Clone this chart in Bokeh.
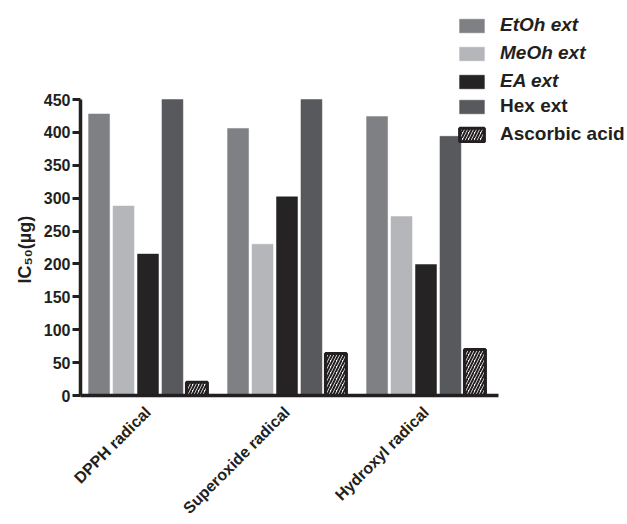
from math import pi
from bokeh.plotting import figure
from bokeh.models import Range1d, FixedTicker, Legend, LegendItem, ColumnDataSource, Label
from bokeh.embed import file_html
from bokeh.resources import INLINE

# ---- data ----
categories = ["DPPH radical", "Superoxide radical", "Hydroxyl radical"]
series_names = ["EtOh ext", "MeOh ext", "EA ext", "Hex ext", "Ascorbic acid"]
etoh = [428, 406, 424]
meoh = [288, 230, 272]
ea = [215, 302, 199]
hexane = [450, 450, 394]   # first two run off the top of the scale
ascorbic = [20, 64, 70]
y_ticks = [0, 50, 100, 150, 200, 250, 300, 350, 400, 450]
y_label = "IC₅₀(µg)"

series_values = [etoh, meoh, ea, hexane, ascorbic]
colors = ["#7f8084", "#b5b6b9", "#252324", "#58595c", "#ffffff"]
group_pos = list(range(len(categories)))

FONT = "Liberation Sans"
INK = "#231f20"

# ---- layout (canvas pixels) ----
W, H = 627, 524
gx0, gpx = 147.5, 139.0             # canvas x of first group centre, px per group
y0px, ppu = 395, 296 / 450.0        # canvas y of value 0, px per unit
ax_left_px, ax_right_px = 80, 498

def u_of(px):
    return (px - gx0) / gpx

x0, x1 = u_of(ax_left_px), u_of(ax_right_px)

p = figure(width=W, height=H, output_backend="svg", toolbar_location=None,
           x_range=Range1d(u_of(0), u_of(W)),
           y_range=Range1d((y0px - H) / ppu, y0px / ppu),
           min_border=0, tools="")
p.outline_line_color = None
p.grid.visible = False

pitch = 0.176
bw = 0.151
renderers = []
for i, (name, vals, col) in enumerate(zip(series_names, series_values, colors)):
    src = ColumnDataSource(dict(x=[g + (i - 2) * pitch for g in group_pos], top=vals))
    if name == "Ascorbic acid":
        r = p.vbar(x="x", top="top", width=bw, bottom=0, source=src,
                   fill_color="white", line_color=INK, line_width=3,
                   hatch_pattern="right_diagonal_line", hatch_color=INK,
                   hatch_scale=6, hatch_weight=2)
    else:
        r = p.vbar(x="x", top="top", width=bw, bottom=0, source=src,
                   fill_color=col, line_color=col, line_width=0.5)
    renderers.append(r)

# axes drawn at fixed positions inside the canvas
p.xaxis.fixed_location = 0
p.xaxis.bounds = (x0, x1)
p.xaxis.ticker = FixedTicker(ticks=group_pos)
p.xaxis.major_label_overrides = {g: c for g, c in zip(group_pos, categories)}
p.xaxis.major_label_orientation = pi / 4
p.xaxis.major_tick_line_color = None
p.xaxis.major_tick_out = 0
p.xaxis.major_tick_in = 0
p.xaxis.minor_tick_line_color = None
p.xaxis.major_label_standoff = 14
p.xaxis.axis_line_width = 3.5
p.xaxis.axis_line_color = INK

p.yaxis.fixed_location = x0
p.yaxis.bounds = (0, 450)
p.yaxis.ticker = FixedTicker(ticks=y_ticks)
p.yaxis.major_tick_out = 8
p.yaxis.major_tick_in = 0
p.yaxis.major_tick_line_width = 3
p.yaxis.major_tick_line_color = INK
p.yaxis.minor_tick_line_color = None
p.yaxis.major_label_standoff = 2
p.yaxis.axis_line_width = 3.5
p.yaxis.axis_line_color = INK

for ax in (p.xaxis, p.yaxis):
    ax.major_label_text_font = FONT
    ax.major_label_text_font_style = "bold"
    ax.major_label_text_font_size = "16px"
    ax.major_label_text_color = INK

# y-axis title
p.add_layout(Label(x=24, y=H - 283, x_units="screen", y_units="screen",
                   text=y_label, angle=pi / 2, text_font=FONT, text_font_style="bold",
                   text_font_size="18px", text_color=INK, text_align="left",
                   text_baseline="alphabetic"))

# legends
leg_common = dict(border_line_color=None, background_fill_alpha=0, padding=0, margin=0,
                  spacing=6, glyph_width=31, glyph_height=17, label_height=17,
                  label_standoff=13, label_text_font=FONT, label_text_color=INK,
                  label_text_font_size="19px")
leg1 = Legend(items=[LegendItem(label=series_names[i], renderers=[renderers[i]]) for i in range(3)],
              location=(456, 432), label_text_font_style="bold italic", **leg_common)
leg2 = Legend(items=[LegendItem(label=series_names[i], renderers=[renderers[i]]) for i in range(3, 5)],
              location=(456, 379), label_text_font_style="bold", **leg_common)
p.add_layout(leg1)
p.add_layout(leg2)

open("out.html", "w").write(file_html(p, INLINE))
